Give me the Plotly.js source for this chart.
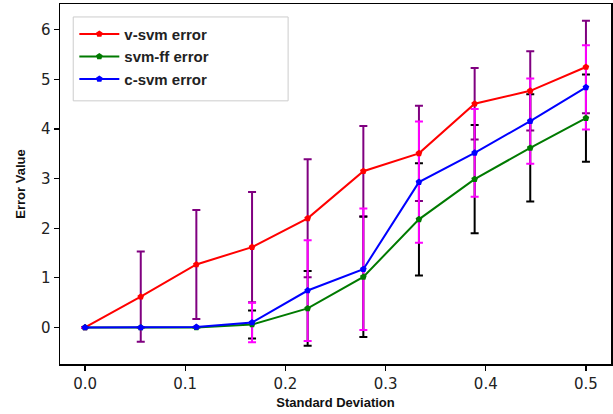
<!DOCTYPE html>
<html>
<head>
<meta charset="utf-8">
<script src="https://cdn.plot.ly/plotly-3.0.1.min.js"></script>
<style>
html,body{margin:0;padding:0;background:#fff;}
#chart{width:613px;height:414px;}
</style>
</head>
<body>
<div id="chart"></div>
<script>
// Standard deviation levels (x)
const stdDev = [0, 0.0556, 0.1111, 0.1667, 0.2222, 0.2778, 0.3333, 0.3889, 0.4444, 0.5];

// v-svm error
const vsvmMean = [0, 0.62, 1.27, 1.62, 2.20, 3.15, 3.51, 4.51, 4.77, 5.25];
const vsvmErr  = [0, 0.91, 1.10, 1.11, 1.19, 0.91, 0.96, 0.72, 0.80, 0.93];

// svm-ff error
const svmffMean = [0, 0, 0, 0.06, 0.385, 1.02, 2.18, 2.99, 3.62, 4.22];
const svmffErr  = [0, 0, 0, 0.28, 0.755, 1.21, 1.13, 1.09, 1.08, 0.88];

// c-svm error
const csvmMean = [0, 0, 0.01, 0.10, 0.745, 1.175, 2.93, 3.52, 4.16, 4.84];
const csvmErr  = [0, 0, 0, 0.40, 1.015, 1.225, 1.22, 0.885, 0.86, 0.85];

const seriesNames = ['v-svm error', 'svm-ff error', 'c-svm error'];
const xTicks = [0, 0.1, 0.2, 0.3, 0.4, 0.5];
const xTickText = ['0.0', '0.1', '0.2', '0.3', '0.4', '0.5'];
const yTicks = [0, 1, 2, 3, 4, 5, 6];

const series = [
  {name: seriesNames[0], y: vsvmMean, e: vsvmErr, line: '#ff0000', bar: '#800080'},
  {name: seriesNames[1], y: svmffMean, e: svmffErr, line: '#007a00', bar: '#000000'},
  {name: seriesNames[2], y: csvmMean, e: csvmErr, line: '#0000ff', bar: '#ff00ff'}
];

const traces = [];
// error bars underneath
series.forEach(s => {
  traces.push({
    x: stdDev, y: s.y, type: 'scatter', mode: 'markers',
    marker: {opacity: 0, size: 1},
    error_y: {type: 'data', array: s.e, visible: true, color: s.bar, thickness: 2, width: 4},
    showlegend: false, hoverinfo: 'skip'
  });
});
// lines on top
series.forEach(s => {
  traces.push({
    x: stdDev, y: s.y, type: 'scatter', mode: 'lines+markers', name: s.name,
    line: {color: s.line, width: 2},
    marker: {color: s.line, symbol: 'pentagon', size: 7}
  });
});

const layout = {
  width: 613, height: 414,
  margin: {l: 60, r: 2, t: 4, b: 50},
  paper_bgcolor: '#fff', plot_bgcolor: '#fff',
  font: {family: 'DejaVu Sans, sans-serif', color: '#000'},
  xaxis: {
    range: [-0.025, 0.525], tickvals: xTicks, ticktext: xTickText,
    showgrid: false, zeroline: false, showline: true, mirror: true,
    linecolor: '#000', linewidth: 1.5, ticks: 'outside', ticklen: 5, tickwidth: 1.2, tickcolor: '#000',
    tickfont: {family: 'DejaVu Sans, sans-serif', size: 15, color: '#222'},
    title: {text: 'Standard Deviation', font: {family: 'Liberation Sans, Arial, sans-serif', size: 13, weight: 'bold', color: '#111'}, standoff: 6}
  },
  yaxis: {
    range: [-0.736, 6.52], tickvals: yTicks,
    showgrid: false, zeroline: false, showline: true, mirror: true,
    linecolor: '#000', linewidth: 1.5, ticks: 'outside', ticklen: 5, tickwidth: 1.2, tickcolor: '#000',
    tickfont: {family: 'DejaVu Sans, sans-serif', size: 15, color: '#222'},
    title: {text: 'Error Value', font: {family: 'Liberation Sans, Arial, sans-serif', size: 13, weight: 'bold', color: '#111'}, standoff: 12}
  },
  // legend frame (wider than Plotly's own box, as in the original)
  shapes: [{
    type: 'rect', xref: 'paper', yref: 'paper', layer: 'below',
    x0: 0.024, x1: 0.414, y0: 0.731, y1: 0.964,
    line: {color: '#cccccc', width: 1}, fillcolor: '#ffffff'
  }],
  legend: {
    x: 0.026, y: 0.962, xanchor: 'left', yanchor: 'top',
    bgcolor: 'rgba(0,0,0,0)', borderwidth: 0,
    font: {family: 'Liberation Sans, Arial, sans-serif', size: 15, weight: 'bold', color: '#222'},
    itemwidth: 40, tracegroupgap: 2
  },
  showlegend: true
};

Plotly.newPlot('chart', traces, layout, {displayModeBar: false, staticPlot: true});
</script>
</body>
</html>
